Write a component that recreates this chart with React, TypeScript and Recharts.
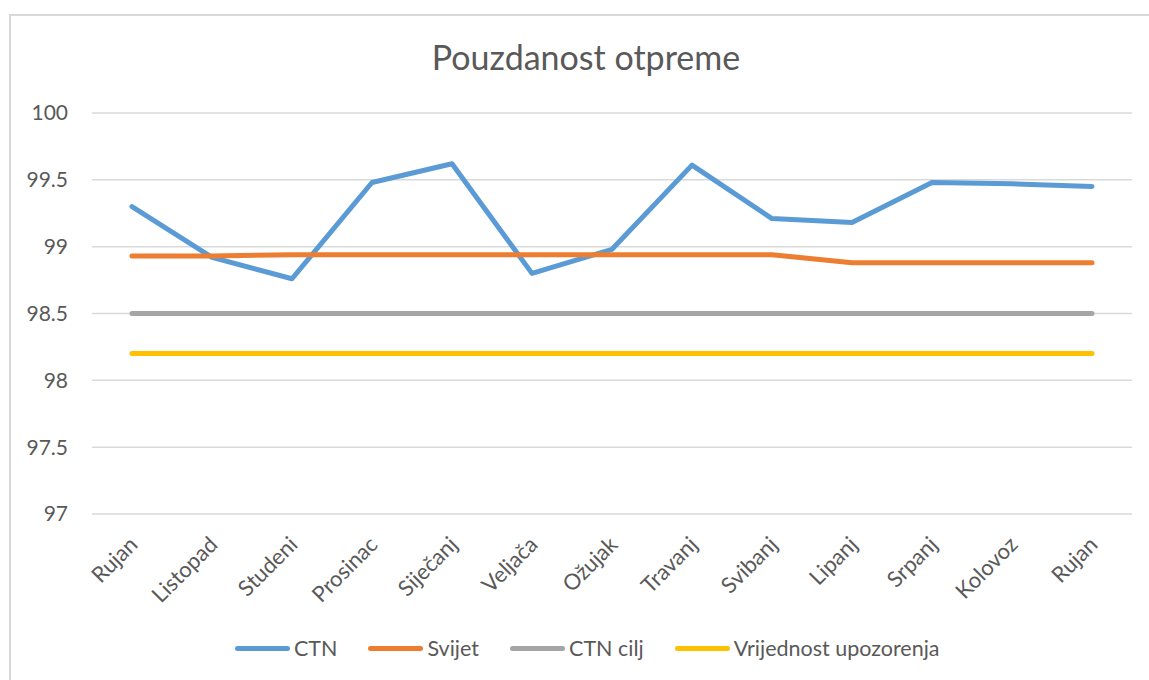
import { LineChart, Line, XAxis, YAxis, CartesianGrid } from 'recharts';

const months = ['Rujan', 'Listopad', 'Studeni', 'Prosinac', 'Siječanj', 'Veljača', 'Ožujak', 'Travanj', 'Svibanj', 'Lipanj', 'Srpanj', 'Kolovoz', 'Rujan'];
const ctn = [99.3, 98.92, 98.76, 99.48, 99.62, 98.8, 98.98, 99.61, 99.21, 99.18, 99.48, 99.47, 99.45];
const svijet = [98.93, 98.93, 98.94, 98.94, 98.94, 98.94, 98.94, 98.94, 98.94, 98.88, 98.88, 98.88, 98.88];
const ctnCilj = [98.5, 98.5, 98.5, 98.5, 98.5, 98.5, 98.5, 98.5, 98.5, 98.5, 98.5, 98.5, 98.5];
const upozorenje = [98.2, 98.2, 98.2, 98.2, 98.2, 98.2, 98.2, 98.2, 98.2, 98.2, 98.2, 98.2, 98.2];
const yTicks = [97, 97.5, 98, 98.5, 99, 99.5, 100];

const series = [
  { key: 'ctn', name: 'CTN', color: '#5B9BD5' },
  { key: 'svijet', name: 'Svijet', color: '#ED7D31' },
  { key: 'cilj', name: 'CTN cilj', color: '#A5A5A5' },
  { key: 'upozorenje', name: 'Vrijednost upozorenja', color: '#FFC000' },
];

const data = months.map((m, i) => ({
  month: m,
  ctn: ctn[i],
  svijet: svijet[i],
  cilj: ctnCilj[i],
  upozorenje: upozorenje[i],
}));

const FONT = 'Lato, "Open Sans", sans-serif';
const TEXT = '#595959';
const FRAME = '#d9d9d9';

// eslint-disable-next-line @typescript-eslint/no-explicit-any
const MonthTick = (props: any) => {
  const { x, y, payload } = props;
  const tx = x + 7;
  const ty = y + 32;
  return (
    <text x={tx} y={ty} transform={`rotate(-45, ${tx}, ${ty})`} textAnchor="end" fill={TEXT} fontSize={22} fontFamily={FONT}>
      {payload.value}
    </text>
  );
};

export default function App() {
  return (
    <div style={{ position: 'relative', width: 1149, height: 680, overflow: 'hidden', fontFamily: FONT, background: '#fff' }}>
      <style>{'html, body { margin: 0; padding: 0; overflow: hidden; }'}</style>
      {/* chart frame: only the top and left edges are inside the picture */}
      <div style={{ position: 'absolute', left: 9, top: 14, width: 1140, height: 1.5, background: FRAME }} />
      <div style={{ position: 'absolute', left: 9, top: 14, width: 1.5, height: 666, background: FRAME }} />
      <div style={{ position: 'absolute', left: 8, top: 8 }}>
        <LineChart width={1141} height={672} data={data} margin={{ top: 105, right: 17, bottom: 66, left: 0 }}>
          <CartesianGrid vertical={false} stroke={FRAME} strokeWidth={1.5} />
          <XAxis
            dataKey="month"
            axisLine={false}
            tickLine={false}
            tickSize={0}
            tickMargin={0}
            height={100}
            padding={{ left: 40, right: 40 }}
            interval={0}
            tick={<MonthTick />}
          />
          <YAxis
            domain={[97, 100]}
            ticks={yTicks}
            axisLine={false}
            tickLine={false}
            tickSize={0}
            tickMargin={24}
            width={84}
            tick={{ fill: TEXT, fontSize: 21, fontFamily: FONT }}
          />
          {series.map((s) => (
            <Line
              key={s.key}
              dataKey={s.key}
              name={s.name}
              stroke={s.color}
              strokeWidth={5}
              strokeLinecap="round"
              strokeLinejoin="round"
              dot={false}
              activeDot={false}
              isAnimationActive={false}
            />
          ))}
        </LineChart>
      </div>
      <div
        style={{
          position: 'absolute',
          left: 0,
          width: 1172,
          top: 40,
          textAlign: 'center',
          fontSize: 34,
          lineHeight: '34px',
          color: TEXT,
        }}
      >
        Pouzdanost otpreme
      </div>
      {/* Legend */}
      <div style={{ position: 'absolute', left: 235, top: 637, display: 'flex', alignItems: 'center', gap: 31 }}>
        {series.map((s) => (
          <div key={s.key} style={{ display: 'flex', alignItems: 'center', gap: 4 }}>
            <div style={{ width: 55, height: 5, borderRadius: 3, background: s.color }} />
            <span style={{ fontSize: 21.5, lineHeight: '22px', color: TEXT }}>{s.name}</span>
          </div>
        ))}
      </div>
    </div>
  );
}
